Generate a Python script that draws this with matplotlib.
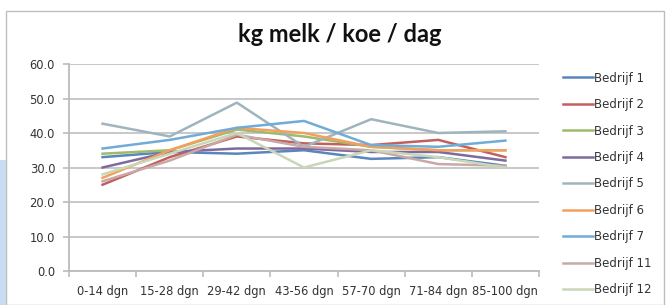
import matplotlib.pyplot as plt
from matplotlib.patches import Rectangle
import numpy as np

plt.rcParams['font.family'] = ['DejaVu Sans']

periods = ["0-14 dgn", "15-28 dgn", "29-42 dgn", "43-56 dgn", "57-70 dgn", "71-84 dgn", "85-100 dgn"]

bedrijf_1 = [33.0, 34.5, 34.0, 35.0, 32.5, 33.0, 30.5]
bedrijf_2 = [25.0, 33.0, 39.0, 37.0, 36.5, 38.0, 33.0]
bedrijf_3 = [34.0, 35.0, 41.0, 39.0, 36.0, 35.0, 35.0]
bedrijf_4 = [30.0, 34.5, 35.5, 35.5, 34.5, 34.5, 32.0]
bedrijf_5 = [42.7, 39.0, 48.8, 36.0, 44.0, 40.0, 40.5]
bedrijf_6 = [27.0, 35.0, 41.5, 40.0, 36.0, 35.0, 35.0]
bedrijf_7 = [35.5, 38.0, 41.5, 43.5, 36.5, 36.0, 37.8]
bedrijf_11 = [26.0, 32.0, 39.5, 36.0, 35.0, 31.0, 30.5]
bedrijf_12 = [28.0, 34.0, 40.0, 30.0, 35.0, 33.0, 30.0]

series = [bedrijf_1, bedrijf_2, bedrijf_3, bedrijf_4, bedrijf_5,
          bedrijf_6, bedrijf_7, bedrijf_11, bedrijf_12]
labels = ["Bedrijf 1", "Bedrijf 2", "Bedrijf 3", "Bedrijf 4", "Bedrijf 5",
          "Bedrijf 6", "Bedrijf 7", "Bedrijf 11", "Bedrijf 12"]
colors = ["#5A86BD", "#C2605C", "#9DBB6A", "#7E6A9E", "#9FB5BE",
          "#F3A05E", "#72ABD6", "#C8A9A8", "#C9D6B7"]

fig = plt.figure(figsize=(6.67, 3.05), dpi=100)
fig.patch.set_facecolor("white")

# chart frame and the blue strip on the left
fig.patches.append(Rectangle((6 / 667, 0), 658 / 667, 1 - 11 / 305, transform=fig.transFigure,
                             fill=False, edgecolor="#BDBDBD", linewidth=1.0))
fig.patches.append(Rectangle((0, 0), 6 / 667, 1 - 160 / 305, transform=fig.transFigure,
                             facecolor="#C9DCF2", edgecolor="none"))

ax = fig.add_axes([69 / 667, 1 - 271 / 305, 470 / 667, 207 / 305])
x = np.arange(len(periods))
for vals, lab, col in zip(series, labels, colors):
    ax.plot(x, vals, color=col, linewidth=1.8, label=lab)

ax.set_xlim(-0.5, len(periods) - 0.5)
ax.set_ylim(0, 60)
ax.set_yticks(np.arange(0, 61, 10))
ax.set_yticklabels([f"{v:.1f}" for v in np.arange(0, 61, 10)])
ax.set_xticks(x)
ax.set_xticklabels(periods)
ax.set_xticks(np.arange(-0.5, len(periods), 1), minor=True)
ax.tick_params(axis="x", which="major", length=0, pad=10, labelsize=8.3, colors="#333333")
ax.tick_params(axis="x", which="minor", length=4, color="#BBBBBB", width=1.2)
ax.tick_params(axis="y", length=4, color="#BBBBBB", width=1.2, labelsize=8.3, colors="#333333", pad=6)
ax.yaxis.grid(True, color="#C4C4C4", linewidth=1.3)
ax.set_axisbelow(True)
for s in ["top", "right"]:
    ax.spines[s].set_visible(False)
for s in ["left", "bottom"]:
    ax.spines[s].set_color("#BBBBBB")
    ax.spines[s].set_linewidth(1.3)

fig.text(340 / 667, 1 - 34 / 305, "kg melk / koe / dag", ha="center", va="center",
         fontsize=17, fontweight="bold", color="#111111", family=["Lato", "DejaVu Sans"])

leg = ax.legend(loc="upper left", bbox_to_anchor=(552 / 667, 1 - 61 / 305),
                bbox_transform=fig.transFigure, frameon=False, fontsize=8.5,
                handlelength=2.6, handletextpad=0.1, labelspacing=1.14)
for t in leg.get_texts():
    t.set_color("#333333")

fig.savefig("out.png", dpi=100)
